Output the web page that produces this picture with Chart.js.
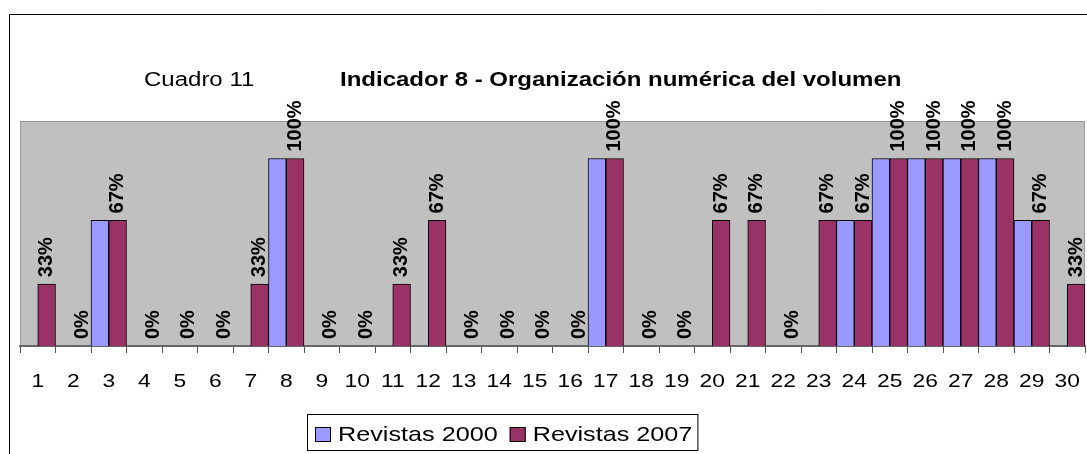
<!DOCTYPE html>
<html>
<head>
<meta charset="utf-8">
<script src="https://cdn.jsdelivr.net/npm/chart.js@4.4.1/dist/chart.umd.min.js"></script>
<style>
  html, body { margin: 0; padding: 0; background: #fff; }
  #wrap { width: 1087px; height: 454px; }
</style>
</head>
<body>
<div id="wrap"><canvas id="chart"></canvas></div>
<script>
const categories = ["1","2","3","4","5","6","7","8","9","10","11","12","13","14","15","16","17","18","19","20","21","22","23","24","25","26","27","28","29","30"];
const revistas2000 = [0,0,67,0,0,0,0,100,0,0,0,0,0,0,0,0,100,0,0,0,0,0,0,67,100,100,100,100,67,0];
const revistas2007 = [33,0,67,0,0,0,33,100,0,0,33,67,0,0,0,0,100,0,0,67,67,0,67,67,100,100,100,100,67,33];
const seriesNames = ["Revistas 2000", "Revistas 2007"];
const seriesColors = ["#9999FF", "#993366"];

const FONT = "Arial, 'Liberation Sans', sans-serif";
const SX = 1.2; // the original text is a bit wider than tall

// draw text stretched sideways, anchored at x
function wideText(ctx, txt, x, y, align) {
  ctx.save();
  ctx.translate(x, y);
  ctx.scale(SX, 1);
  ctx.textAlign = align || 'left';
  ctx.fillText(txt, 0, 0);
  ctx.restore();
}

// gray plot background + outer frame + titles + data labels + legend
const decor = {
  id: 'decor',
  beforeDraw(chart) {
    const { ctx, chartArea: a } = chart;
    ctx.save();
    ctx.fillStyle = '#fff';
    ctx.fillRect(0, 0, chart.width, chart.height);
    // outer frame (only top and left visible)
    ctx.strokeStyle = '#000';
    ctx.lineWidth = 1;
    ctx.beginPath();
    ctx.moveTo(9.5, chart.height + 2);
    ctx.lineTo(9.5, 14.5);
    ctx.lineTo(chart.width + 2, 14.5);
    ctx.stroke();
    // plot area
    ctx.fillStyle = '#C0C0C0';
    ctx.fillRect(a.left, a.top, a.right - a.left, a.bottom - a.top);
    ctx.strokeStyle = '#999999';
    ctx.strokeRect(a.left + 0.5, a.top + 0.5, a.right - a.left - 1, a.bottom - a.top);
    ctx.restore();
  },
  afterDraw(chart) {
    const { ctx } = chart;
    ctx.save();
    ctx.fillStyle = '#000';
    ctx.textBaseline = 'middle';
    ctx.font = 'normal 20px ' + FONT;
    wideText(ctx, 'Cuadro 11', 144, 80);
    ctx.font = 'bold 20px ' + FONT;
    wideText(ctx, 'Indicador 8 - Organización numérica del volumen', 340, 80);

    // category labels under the axis
    const xs = chart.scales.x;
    ctx.font = 'normal 19px ' + FONT;
    categories.forEach((c, i) => {
      wideText(ctx, c, xs.getPixelForTick(i), 382, 'center');
    });

    // value labels on the 2007 series
    const meta = chart.getDatasetMeta(1);
    ctx.font = 'bold 20px ' + FONT;
    meta.data.forEach((bar, i) => {
      ctx.save();
      ctx.translate(bar.x, bar.y - 7);
      ctx.scale(1.05, 1);
      ctx.rotate(-Math.PI / 2);
      ctx.textAlign = 'left';
      ctx.textBaseline = 'middle';
      ctx.fillText(revistas2007[i] + '%', 0, 0);
      ctx.restore();
    });

    // legend
    ctx.font = 'normal 21px ' + FONT;
    ctx.textBaseline = 'middle';
    const ly = 434;
    const startX = 307;
    let x = 315;
    chart.data.datasets.forEach(d => {
      ctx.fillStyle = d.backgroundColor;
      ctx.fillRect(x, ly - 7, 16, 15);
      ctx.strokeStyle = '#000';
      ctx.strokeRect(x + 0.5, ly - 6.5, 15, 14);
      ctx.fillStyle = '#000';
      wideText(ctx, d.label, x + 23, ly + 1);
      x += 23 + ctx.measureText(d.label).width * SX + 12;
    });
    ctx.strokeStyle = '#000';
    ctx.strokeRect(startX + 0.5, 414.5, x - 7 - startX, 36);
    ctx.restore();
  }
};

new Chart(document.getElementById('chart'), {
  type: 'bar',
  data: {
    labels: categories,
    datasets: [
      { label: seriesNames[0], data: revistas2000, backgroundColor: seriesColors[0], borderColor: '#000', borderWidth: 1, borderSkipped: 'bottom' },
      { label: seriesNames[1], data: revistas2007, backgroundColor: seriesColors[1], borderColor: '#000', borderWidth: 1, borderSkipped: 'bottom' }
    ]
  },
  options: {
    responsive: true,
    maintainAspectRatio: false,
    animation: false,
    devicePixelRatio: 1,
    layout: { padding: { left: 20, right: 2, top: 121, bottom: 0 } },
    datasets: { bar: { barPercentage: 1, categoryPercentage: 1 } },
    plugins: { legend: { display: false }, title: { display: false }, tooltip: { enabled: false } },
    scales: {
      x: {
        offset: true,
        grid: { display: true, drawOnChartArea: false, drawTicks: true, tickLength: 7, color: '#555', offset: true },
        border: { display: true, color: '#666', width: 2 },
        ticks: { display: false, autoSkip: false },
        afterFit(scale) { scale.height = 108; }
      },
      y: {
        display: false,
        min: 0,
        max: 120
      }
    }
  },
  plugins: [decor]
});
</script>
</body>
</html>
